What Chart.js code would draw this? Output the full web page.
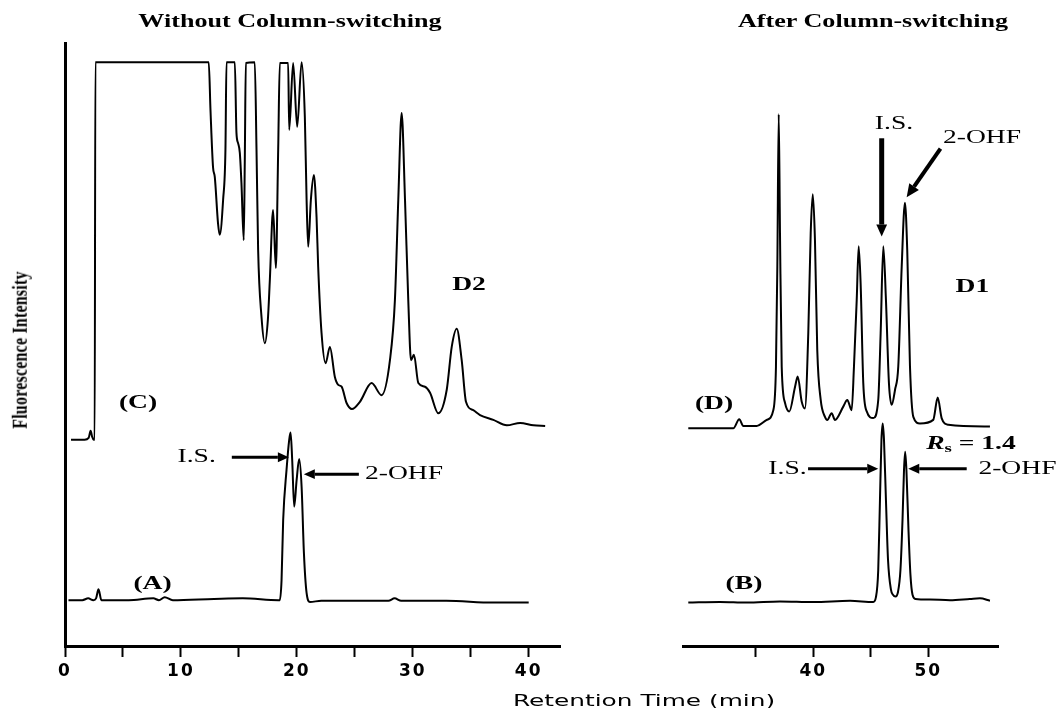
<!DOCTYPE html>
<html>
<head>
<meta charset="utf-8">
<script src="https://cdn.jsdelivr.net/npm/chart.js@4.4.1/dist/chart.umd.min.js"></script>
<style>
  html, body { margin: 0; padding: 0; background: #fff; }
  body { width: 1059px; height: 708px; position: relative; overflow: hidden; }
  canvas { position: absolute; top: 0; }
  #leftChart { left: 0; }
  #rightChart { left: 660px; }
  .txt { position: absolute; white-space: nowrap; color: #000; }
  .title { top: 12px; font: bold 18px/18px "Liberation Serif", serif; transform: translateX(-50%) scaleX(1.45); }
  .xtitle { left: 644px; top: 693px; font: 16px/16px "DejaVu Sans", sans-serif; transform: translateX(-50%) scaleX(1.55); }
  .ytitle { left: 20px; top: 350px; font: bold 16px/16px "Liberation Serif", serif; letter-spacing: 0.2px;
            transform: translate(-50%, -50%) rotate(-90deg) scaleY(1.25); }
</style>
</head>
<body>
<canvas id="leftChart" width="600" height="708"></canvas>
<canvas id="rightChart" width="399" height="708"></canvas>
<div class="txt title" style="left:290px">Without Column-switching</div>
<div class="txt title" style="left:873px">After Column-switching</div>
<div class="txt xtitle">Retention Time (min)</div>
<div class="txt ytitle">Fluorescence Intensity</div>
<script>
// --- DATOS (tiempo en min, señal en unidades relativas 0-100) ---
// (C) sin column-switching, muestra
const timeC = [0.52, 1.69, 2.04, 2.21, 2.34, 2.47, 2.56, 2.62, 12.40, 12.55, 12.77, 12.92, 13.20, 13.35, 13.64, 13.84, 13.93,
  14.65, 14.79, 14.93, 15.08, 15.22, 15.42, 15.51, 15.60, 16.37, 16.52, 16.66, 16.95, 17.24, 17.50, 17.67, 17.95, 18.19, 18.39, 18.53,
  19.25, 19.34, 19.68, 20.03, 20.41, 20.69, 20.84, 20.98, 21.21, 21.47, 21.70, 21.84, 22.13, 22.48, 22.85, 23.28, 23.57, 23.86, 24.29,
  24.75, 25.44, 26.45, 27.31, 28.03, 28.46, 28.75, 29.04, 29.33, 29.61, 29.85, 30.10, 30.48, 31.05, 31.49, 32.20, 32.93, 33.36, 33.79,
  34.22, 34.59, 35.22, 35.80, 36.95, 38.11, 39.26, 40.41, 41.42];
const signalC = [34.2, 34.2, 34.5, 35.7, 34.7, 34.2, 34.2, 96.8, 96.8, 88.9, 79.4, 77.8, 70.1, 68.2, 74.0, 82.3, 96.8,
  96.8, 85.1, 83.4, 81.8, 76.8, 67.3, 80.6, 96.7, 96.8, 82.3, 65.7, 54.6, 50.2, 54.1, 60.7, 72.3, 62.7, 82.3, 96.7,
  96.7, 85.6, 96.7, 86.1, 96.8, 87.7, 74.0, 66.2, 74.0, 78.1, 71.1, 62.9, 51.9, 46.9, 49.6, 44.6, 43.3, 43.0, 40.3,
  39.3, 40.5, 43.6, 41.6, 47.4, 57.4, 74.0, 88.4, 74.0, 57.4, 47.4, 48.3, 43.6, 43.0, 42.0, 38.6, 42.5, 49.6, 52.6,
  47.4, 40.5, 39.1, 38.3, 37.5, 36.6, 37.0, 36.6, 36.5];

// (A) sin column-switching, estándar
const timeA = [0.30, 1.5, 2.0, 2.45, 2.68, 2.89, 3.14, 3.6, 5.5, 7.62, 8.1, 8.60, 9.3, 12.86, 15.33, 18.41,
  18.53, 18.68, 18.82, 19.11, 19.34, 19.46, 19.60, 19.77, 19.98, 20.20, 20.41, 20.61, 20.84, 21.13,
  22.11, 25.18, 27.9, 28.43, 29.0, 29.82, 32.90, 36.92, 40.0];
const signalA = [7.6, 7.6, 7.9, 7.6, 7.9, 9.4, 7.6, 7.6, 7.6, 7.9, 7.6, 8.1, 7.6, 7.8, 7.9, 7.6,
  7.6, 10.9, 20.9, 29.2, 34.2, 35.4, 30.8, 23.1, 27.5, 31.0, 26.4, 15.4, 8.8, 7.3,
  7.5, 7.5, 7.5, 7.9, 7.5, 7.5, 7.5, 7.2, 7.2];

// (D) después de column-switching, muestra
const timeD = [29.14, 33.05, 33.57, 33.92, 35.09, 35.96, 36.53, 36.76, 36.88, 37.00, 37.11, 37.26, 37.55, 37.92, 38.42,
  38.65, 39.00, 39.28, 39.57, 39.78, 39.96, 40.15, 40.35, 40.65, 41.02, 41.22, 41.60, 41.89, 42.61, 42.96, 43.34,
  43.54, 43.78, 43.95, 44.12, 44.35, 44.65, 45.22, 45.65, 45.86, 46.09, 46.32, 46.58, 46.82, 47.11, 47.39, 47.69,
  47.97, 48.17, 48.41, 48.70, 49.28, 50.43, 50.82, 51.16, 51.74, 55.36];
const signalD = [36.1, 36.1, 37.6, 36.5, 36.5, 37.5, 39.1, 46.3, 62.9, 88.2, 68.5, 46.3, 40.3, 38.9, 43.0,
  44.7, 40.5, 39.4, 51.9, 68.5, 74.9, 67.3, 49.1, 40.8, 38.0, 37.5, 38.6, 37.5, 39.7, 40.8, 39.1,
  46.3, 57.4, 66.3, 60.1, 43.6, 38.9, 37.8, 40.8, 51.9, 66.3, 57.4, 43.6, 40.0, 42.5, 46.3, 62.9,
  73.5, 65.7, 46.3, 38.0, 36.9, 37.5, 41.2, 37.8, 36.7, 36.4];

// (B) después de column-switching, estándar
const timeB = [29.14, 31.90, 34.22, 37.11, 40.01, 43.20, 45.22, 45.45, 45.65, 45.80, 45.93, 46.04, 46.15, 46.32, 46.50,
  46.76, 46.93, 47.15, 47.37, 47.58, 47.76, 47.89, 47.99, 48.10, 48.28, 48.45, 48.63, 48.89, 50.15, 51.89, 53.62, 54.49, 55.36];
const signalB = [7.2, 7.3, 7.2, 7.4, 7.3, 7.5, 7.3, 8.1, 12.6, 24.2, 34.2, 36.9, 34.2, 24.2, 14.3,
  9.3, 8.5, 8.2, 9.0, 12.6, 20.9, 29.2, 32.2, 29.2, 19.2, 11.8, 8.5, 7.8, 7.7, 7.6, 7.8, 7.9, 7.5];

// --- EJES ---
const leftTicks = [0, 5, 10, 15, 20, 25, 30, 35, 40];
const leftTickLabels = [0, 10, 20, 30, 40];
const rightTicks = [35, 40, 45, 50];
const rightTickLabels = [40, 50];

// --- ANOTACIONES ---
const serif = '19px "Liberation Serif", serif';
const serifBold = 'bold 19px "Liberation Serif", serif';
const note = (text, x, y, font) => ({ x: x, y: y, parts: [{ text: text, font: font }] });

const leftNotes = {
  labels: [
    note('(C)', 6.3, 40.3, serifBold),
    note('D2', 34.85, 59.8, serifBold),
    note('(A)', 7.55, 10.3, serifBold),
    note('I.S.', 11.36, 31.3, serif),
    note('2-OHF', 29.24, 28.5, serif)
  ],
  arrows: [
    { from: [14.39, 31.3], to: [19.31, 31.3], width: 3, head: 11 },
    { from: [25.35, 28.5], to: [20.6, 28.5], width: 3, head: 11 }
  ]
};

const rightNotes = {
  labels: [
    note('I.S.', 47.02, 86.6, serif),
    note('2-OHF', 54.67, 84.2, serif),
    note('D1', 53.84, 59.6, serifBold),
    note('(D)', 31.38, 40.1, serifBold),
    { x: 53.71, y: 33.5, parts: [
      { text: 'R', font: 'italic bold 19px "Liberation Serif", serif' },
      { text: 's', font: 'bold 13px "Liberation Serif", serif', dy: 5 },
      { text: ' = 1.4', font: serifBold }
    ] },
    note('I.S.', 37.76, 29.4, serif),
    note('2-OHF', 57.75, 29.4, serif),
    note('(B)', 33.98, 10.3, serifBold)
  ],
  arrows: [
    { from: [45.95, 84.2], to: [45.95, 67.9], width: 5, head: 12 },
    { from: [51.06, 82.5], to: [48.12, 74.4], width: 4, head: 13 },
    { from: [39.55, 29.4], to: [45.65, 29.4], width: 3, head: 11 },
    { from: [53.34, 29.4], to: [48.26, 29.4], width: 3, head: 11 }
  ]
};

// --- FUNCIONES ---
const toPoints = (xs, ys) => xs.map((x, i) => ({ x: x, y: ys[i] }));

function drawArrow(ctx, x1, y1, x2, y2, width, head) {
    const ang = Math.atan2(y2 - y1, x2 - x1);
    const bx = x2 - Math.cos(ang) * head;
    const by = y2 - Math.sin(ang) * head;
    const hw = head * 0.45;
    ctx.lineWidth = width;
    ctx.beginPath();
    ctx.moveTo(x1, y1);
    ctx.lineTo(bx, by);
    ctx.stroke();
    ctx.beginPath();
    ctx.moveTo(x2, y2);
    ctx.lineTo(bx + Math.sin(ang) * hw, by - Math.cos(ang) * hw);
    ctx.lineTo(bx - Math.sin(ang) * hw, by + Math.cos(ang) * hw);
    ctx.closePath();
    ctx.fill();
}

function drawLabel(ctx, px, py, parts) {
    // el escaneo original está estirado en horizontal
    ctx.save();
    ctx.translate(px, py);
    ctx.scale(1.45, 1);
    ctx.textBaseline = 'middle';
    let total = 0;
    parts.forEach(p => { ctx.font = p.font; total += ctx.measureText(p.text).width; });
    let cx = -total / 2;
    parts.forEach(p => {
        ctx.font = p.font;
        ctx.fillText(p.text, cx, p.dy || 0);
        cx += ctx.measureText(p.text).width;
    });
    ctx.restore();
}

const notesPlugin = {
    id: 'notes',
    beforeDraw(chart) {
        chart.ctx.letterSpacing = '2px'; // números anchos del eje
    },
    afterDraw(chart, args, opts) {
        const { ctx, scales: { x, y } } = chart;
        ctx.save();
        ctx.letterSpacing = '0px';
        ctx.fillStyle = '#000';
        ctx.strokeStyle = '#000';
        (opts.arrows || []).forEach(a => drawArrow(ctx,
            x.getPixelForValue(a.from[0]), y.getPixelForValue(a.from[1]),
            x.getPixelForValue(a.to[0]), y.getPixelForValue(a.to[1]), a.width, a.head));
        (opts.labels || []).forEach(l => drawLabel(ctx, x.getPixelForValue(l.x), y.getPixelForValue(l.y), l.parts));
        ctx.restore();
    }
};

function trace(xs, ys) {
    return {
        data: toPoints(xs, ys),
        borderColor: '#000',
        borderWidth: 2,
        pointRadius: 0,
        fill: false,
        cubicInterpolationMode: 'monotone'
    };
}

function makeChart(canvasId, cfg) {
    return new Chart(document.getElementById(canvasId), {
        type: 'line',
        data: { datasets: cfg.traces.map(t => trace(t[0], t[1])) },
        plugins: [notesPlugin],
        options: {
            responsive: false,
            animation: false,
            layout: { padding: cfg.padding },
            plugins: { legend: { display: false }, tooltip: { enabled: false }, notes: cfg.notes },
            scales: {
                x: {
                    type: 'linear', min: cfg.min, max: cfg.max,
                    border: { display: true, color: '#000', width: 3 },
                    grid: { drawOnChartArea: false, drawTicks: true, tickLength: 11, tickWidth: 2, tickColor: '#000', color: '#000' },
                    ticks: {
                        color: '#000', padding: 4, maxRotation: 0, autoSkip: false,
                        font: { family: 'DejaVu Sans', size: 17, weight: 'bold' },
                        callback: v => cfg.labels.includes(v) ? String(v) : ''
                    },
                    afterBuildTicks: axis => { axis.ticks = cfg.ticks.map(v => ({ value: v })); },
                    afterFit: s => { s.height = 62; }
                },
                y: {
                    display: cfg.yAxis, min: 0, max: 100,
                    ticks: { display: false },
                    grid: { drawOnChartArea: false, drawTicks: false },
                    border: { display: true, color: '#000', width: 3 },
                    afterFit: s => { s.width = 0; }
                }
            }
        }
    });
}

makeChart('leftChart', {
    traces: [[timeC, signalC], [timeA, signalA]],
    min: 0, max: 42.7,
    ticks: leftTicks, labels: leftTickLabels,
    padding: { left: 65, top: 43, right: 40, bottom: 0 },
    yAxis: true,
    notes: leftNotes
});

makeChart('rightChart', {
    traces: [[timeD, signalD], [timeB, signalB]],
    min: 28.68, max: 56.06,
    ticks: rightTicks, labels: rightTickLabels,
    padding: { left: 23, top: 43, right: 61, bottom: 0 },
    yAxis: false,
    notes: rightNotes
});
</script>
</body>
</html>
